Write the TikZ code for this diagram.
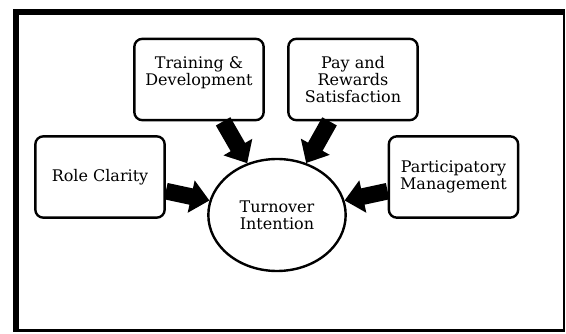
\documentclass[tikz,border=0pt]{standalone}
\usepackage{fontspec}
\setmainfont{DejaVu Serif}
\usetikzlibrary{arrows.meta,shapes.geometric}

\begin{document}
\begin{tikzpicture}[x=0.75pt,y=-0.75pt,>={Triangle[length=14pt,width=24pt]}]
    \tikzstyle{box}=[draw, line width=1.8pt, rounded corners=6pt, minimum width=97pt, minimum height=61pt, align=center, inner sep=2pt, font=\fontsize{12}{12.75}\selectfont]
    \tikzstyle{outcome}=[draw, ellipse, line width=1.8pt, minimum width=103pt, minimum height=84pt, inner sep=0pt, align=center, font=\fontsize{12}{12.75}\selectfont]
    \tikzstyle{push}=[->, line width=12.5pt]

    \useasboundingbox (0,0) rectangle (566,334);
    % frame
    \fill (13,9) rectangle (565,331.5);
    \fill[white] (19,15) rectangle (562.5,329);

    \node[box]     (train) at (199,79.5)  {Training \&\\Development\\\mbox{}};
    \node[box]     (pay)   at (353,79.5)  {Pay and\\Rewards\\Satisfaction};
    \node[box]     (role)  at (100,177)   {Role Clarity};
    \node[box]     (part)  at (453.5,177) {Participatory\\Management};
    \node[outcome] (turn)  at (277,215)   {Turnover\\Intention};

    \path
     (train) edge[push] (turn)
     (pay)   edge[push] (turn)
     (role)  edge[push] (turn)
     (part)  edge[push] (turn)
     ;
\end{tikzpicture}
\end{document}
